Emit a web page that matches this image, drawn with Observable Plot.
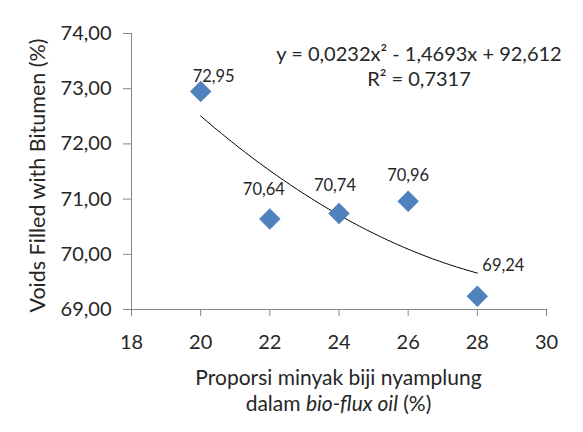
<!DOCTYPE html>
<html><head><meta charset="utf-8">
<script src="https://cdn.jsdelivr.net/npm/d3@7"></script>
<script src="https://cdn.jsdelivr.net/npm/@observablehq/plot@0.6"></script>
<style>
html,body{margin:0;padding:0;background:#fff;}
#chart svg{display:block;}
.xtitle{width:583px;box-sizing:border-box;padding-left:94px;text-align:center;font-family:Lato,sans-serif;font-size:21px;line-height:26px;color:#262626;white-space:nowrap;}
</style></head><body>
<div id="chart"></div>
<script>
// ---- data ----
const proportions = [20, 22, 24, 26, 28];
const vfbValues = [72.95, 70.64, 70.74, 70.96, 69.24];
const xTicks = [18, 20, 22, 24, 26, 28, 30];
const yTicks = [69, 70, 71, 72, 73, 74];
const trendCoefficients = [92.612, -1.4693, 0.0232]; // constant, x, x^2 (from the chart's equation)
const rSquared = 0.7317;
const yTitle = "Voids Filled with Bitumen (%)";
const xTitleLine1 = "Proporsi minyak biji nyamplung";
const xTitleLine2 = ["dalam ", "bio-flux oil", " (%)"];

// ---- helpers ----
const comma = (s) => String(s).replace(".", ",");
const fmt2 = (v) => comma(v.toFixed(2));
const points = proportions.map((x, i) => ({x, y: vfbValues[i]}));
const trend = (x) => trendCoefficients[0] + trendCoefficients[1] * x + trendCoefficients[2] * x * x;
const trendX = d3.range(d3.min(proportions), d3.max(proportions) + 1e-9, 0.1);
const trendPts = trendX.map((x) => ({x, y: trend(x)}));
const equation = `y = ${comma(trendCoefficients[2])}x² - ${comma(-trendCoefficients[1])}x + ${comma(trendCoefficients[0])}\nR² = ${comma(rSquared)}`;

// per-label nudges (Excel labels were moved by hand)
const labelNudge = [[13, -15], [-6, -29], [-4, -28], [0, -26], [26, -31]];

const axisGray = "#868686";
const textColor = "#262626";

const chart = Plot.plot({
  width: 583,
  height: 364,
  marginLeft: 131,
  marginRight: 37,
  marginTop: 33,
  marginBottom: 55,
  style: {fontFamily: "Lato, sans-serif", fontSize: "20px", color: textColor, background: "#fff"},
  x: {domain: [18, 30], label: null},
  y: {domain: [69, 74], label: null},
  marks: [
    Plot.axisY({ticks: yTicks, tickFormat: fmt2, tickSize: 8, tickPadding: 12, stroke: axisGray, fill: textColor, label: null, fontSize: 20}),
    Plot.axisX({ticks: xTicks, tickFormat: (d) => String(d), tickSize: 7, tickPadding: 18, stroke: axisGray, fill: textColor, label: null, fontSize: 20}),
    Plot.ruleX([18], {stroke: axisGray}),
    Plot.ruleY([69], {stroke: axisGray}),
    Plot.line(trendPts, {x: "x", y: "y", stroke: "#000", strokeWidth: 1, curve: "linear"}),
    Plot.dot(points, {x: "x", y: "y", symbol: "diamond2", r: 9.4, fill: "#4F81BD", stroke: "#4A7AB5", strokeWidth: 0.5}),
    ...points.map((p, i) => Plot.text([p], {x: "x", y: "y", text: (d) => fmt2(d.y), dx: labelNudge[i][0], dy: labelNudge[i][1], fontSize: 16.5, fill: textColor})),
    Plot.text([equation], {frameAnchor: "top", text: (d) => d, dx: 80, dy: 31.5, lineAnchor: "middle", lineHeight: 1.25, fontSize: 20, fill: textColor}),
    Plot.text([yTitle], {frameAnchor: "left", textAnchor: "middle", text: (d) => d, rotate: -90, dx: -93, dy: 4, fontSize: 21.5, fill: textColor})
  ]
});
document.getElementById("chart").appendChild(chart);

const xt = document.createElement("div");
xt.className = "xtitle";
const l1 = document.createElement("div");
l1.textContent = xTitleLine1;
const l2 = document.createElement("div");
l2.append(xTitleLine2[0]);
const it = document.createElement("i");
it.textContent = xTitleLine2[1];
l2.append(it, xTitleLine2[2]);
xt.append(l1, l2);
document.body.appendChild(xt);
</script>
</body></html>
